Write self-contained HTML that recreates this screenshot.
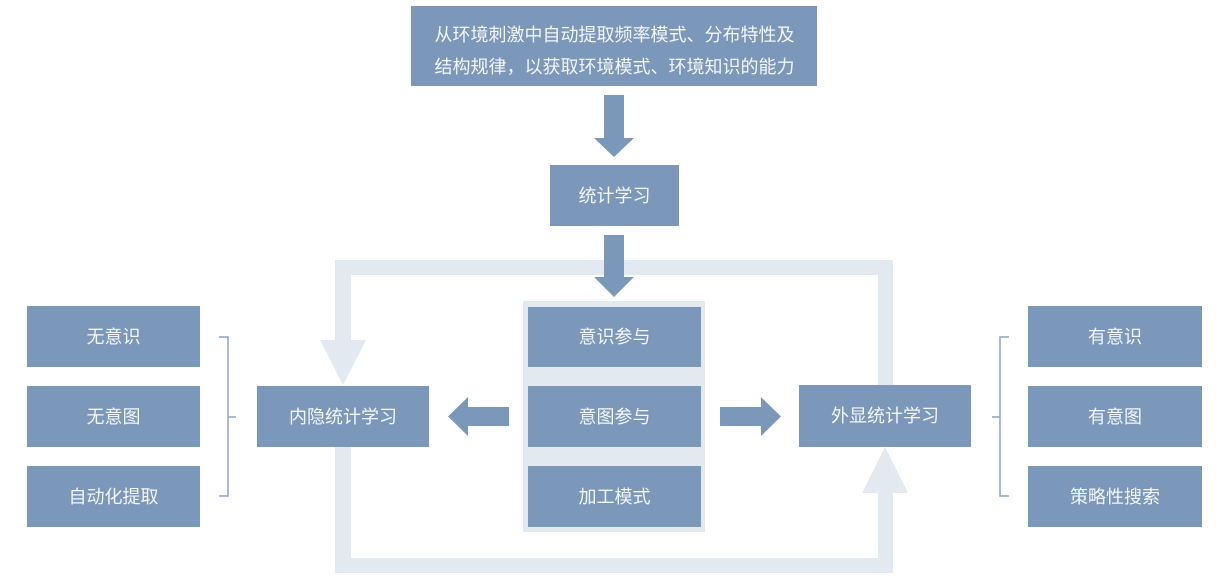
<!DOCTYPE html>
<html>
<head>
<meta charset="utf-8">
<style>
  html, body { margin: 0; padding: 0; background: #ffffff; }
  svg { display: block; }
  text { font-family: "Liberation Sans", "Noto Sans CJK SC", sans-serif; font-size: 18px; fill: #f4f6f9; }
</style>
</head>
<body>
<svg width="1230" height="579" viewBox="0 0 1230 579" xmlns="http://www.w3.org/2000/svg">
  <rect x="0" y="0" width="1230" height="579" fill="#ffffff"/>

  <!-- light loop frame -->
  <g fill="#e3e9f1">
    <rect x="335" y="260" width="558" height="15"/>
    <rect x="335" y="260" width="16" height="81"/>
    <polygon points="320,340 366,340 343,385"/>
    <rect x="335" y="447" width="16" height="126"/>
    <rect x="335" y="558" width="558" height="15"/>
    <rect x="878" y="492" width="15" height="81"/>
    <polygon points="862,493 908,493 885,447"/>
    <rect x="878" y="260" width="15" height="125"/>
  </g>

  <!-- center panel background -->
  <rect x="523" y="301" width="182" height="231" fill="#e3e9f1"/>

  <!-- boxes -->
  <g fill="#7b97ba">
    <rect x="411" y="6" width="406" height="80"/>
    <rect x="550" y="165" width="129" height="61"/>

    <rect x="27" y="306" width="173" height="61"/>
    <rect x="27" y="386" width="173" height="61"/>
    <rect x="27" y="466" width="173" height="61"/>

    <rect x="257" y="386" width="172" height="61"/>

    <rect x="528" y="307" width="173" height="60"/>
    <rect x="528" y="386" width="173" height="61"/>
    <rect x="528" y="466" width="173" height="61"/>

    <rect x="799" y="385" width="172" height="62"/>

    <rect x="1028" y="306" width="174" height="61"/>
    <rect x="1028" y="386" width="174" height="61"/>
    <rect x="1028" y="466" width="174" height="61"/>

    <!-- arrows -->
    <polygon points="604,95 624,95 624,138 634,138 614,157 594,138 604,138"/>
    <polygon points="604,235 624,235 624,277 634,277 614,297 594,277 604,277"/>
    <polygon points="509,407 468,407 468,397 448,416.5 468,436 468,426 509,426"/>
    <polygon points="720,407 761,407 761,397 781,416.5 761,436 761,426 720,426"/>
  </g>

  <!-- brackets -->
  <g fill="none" stroke="#8ba3c5" stroke-width="1.5">
    <path d="M219,337 H228 V496 H219"/>
    <path d="M228,417 H236"/>
    <path d="M1009,337 H1000 V496 H1009"/>
    <path d="M1000,417 H992"/>
  </g>

  <!-- labels -->
  <g text-anchor="middle" dominant-baseline="central">
    <text x="614.5" y="35">从环境刺激中自动提取频率模式、分布特性及</text>
    <text x="614.5" y="67">结构规律，以获取环境模式、环境知识的能力</text>
    <text x="614.5" y="196">统计学习</text>

    <text x="113.5" y="337">无意识</text>
    <text x="113.5" y="417">无意图</text>
    <text x="113.5" y="497">自动化提取</text>

    <text x="343" y="417">内隐统计学习</text>

    <text x="614.5" y="337">意识参与</text>
    <text x="614.5" y="417">意图参与</text>
    <text x="614.5" y="497">加工模式</text>

    <text x="885" y="416">外显统计学习</text>

    <text x="1115" y="337">有意识</text>
    <text x="1115" y="417">有意图</text>
    <text x="1115" y="497">策略性搜索</text>
  </g>
</svg>
</body>
</html>
